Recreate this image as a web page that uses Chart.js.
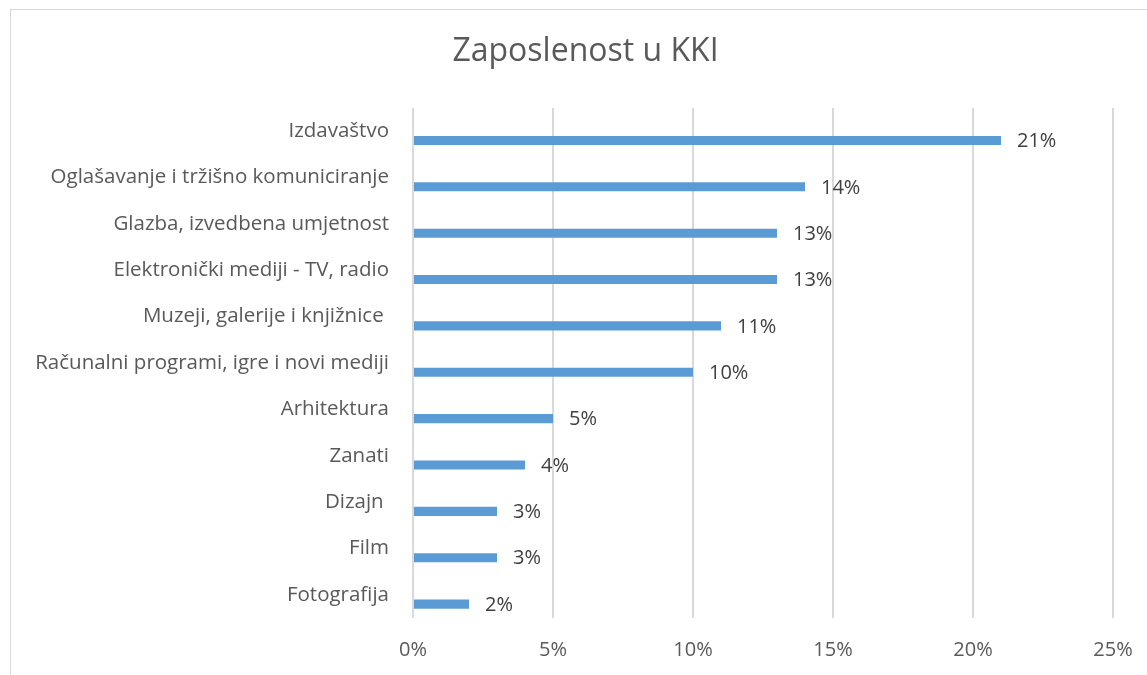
<!DOCTYPE html>
<html>
<head>
<meta charset="utf-8">
<script src="https://cdn.jsdelivr.net/npm/chart.js@4"></script>
<style>
  html, body { margin: 0; padding: 0; background: #fff; }
  #wrap { position: relative; width: 1147px; height: 675px; overflow: hidden; }
  #frame { position: absolute; left: 10px; top: 9px; width: 1200px; height: 700px; border: 1.5px solid #d9d9d9; box-sizing: border-box; }
  canvas { position: absolute; left: 0; top: 0; }
</style>
</head>
<body>
<div id="wrap">
  <div id="frame"></div>
  <canvas id="kki" width="1147" height="675"></canvas>
</div>
<script>
const categories = [
  'Izdavaštvo',
  'Oglašavanje i tržišno komuniciranje',
  'Glazba, izvedbena umjetnost',
  'Elektronički mediji - TV, radio',
  'Muzeji, galerije i knjižnice ',
  'Računalni programi, igre i novi mediji',
  'Arhitektura',
  'Zanati',
  'Dizajn ',
  'Film',
  'Fotografija'
];
const shares = [21, 14, 13, 13, 11, 10, 5, 4, 3, 3, 2];
const xTicks = [0, 5, 10, 15, 20, 25];

const fontFamily = '"Open Sans", Lato, sans-serif';

// value labels right of each bar
const valueLabels = {
  id: 'valueLabels',
  afterDatasetsDraw(chart) {
    const ctx = chart.ctx;
    const meta = chart.getDatasetMeta(1);
    ctx.save();
    ctx.font = '20px ' + fontFamily;
    ctx.fillStyle = '#404040';
    ctx.textAlign = 'left';
    ctx.textBaseline = 'middle';
    meta.data.forEach((bar, i) => {
      ctx.fillText(shares[i] + '%', bar.x + 16, bar.y + 1);
    });
    ctx.restore();
  }
};

// the original frame is wider than the picture, so its title sits right of centre
const titleShift = {
  id: 'titleShift',
  afterLayout(chart) {
    chart.titleBlock.left += 29;
    chart.titleBlock.right += 29;
  }
};

new Chart(document.getElementById('kki'), {
  type: 'bar',
  data: {
    labels: categories,
    datasets: [
      { label: '', data: categories.map(() => null) },
      {
        label: 'Zaposlenost',
        data: shares,
        backgroundColor: '#5b9bd5'
      }
    ]
  },
  options: {
    indexAxis: 'y',
    responsive: false,
    animation: false,
    datasets: { bar: { categoryPercentage: 0.8, barPercentage: 0.49 } },
    layout: { padding: { left: 0, right: 34, top: 0, bottom: 0 } },
    plugins: {
      legend: { display: false },
      tooltip: { enabled: false },
      title: {
        display: true,
        text: 'Zaposlenost u KKI',
        color: '#595959',
        font: { family: fontFamily, size: 32, weight: 'normal' },
        padding: { top: 33, bottom: 36.6 }
      }
    },
    scales: {
      x: {
        min: 0,
        max: 25,
        afterBuildTicks: s => { s.ticks = xTicks.map(v => ({ value: v })); },
        afterFit: s => { s.height = 57; s.paddingLeft = 0; s.paddingRight = 0; },
        grid: { color: '#d9d9d9', lineWidth: 2, drawTicks: false },
        border: { display: false },
        ticks: {
          padding: 20,
          color: '#595959',
          font: { family: fontFamily, size: 20 },
          callback: v => v + '%'
        }
      },
      y: {
        afterFit: s => { s.width = 413; },
        grid: { display: false, drawTicks: false },
        border: { display: false },
        ticks: {
          padding: 24,
          color: '#595959',
          font: { family: fontFamily, size: 20.5 }
        }
      }
    }
  },
  plugins: [valueLabels, titleShift]
});
</script>
</body>
</html>
